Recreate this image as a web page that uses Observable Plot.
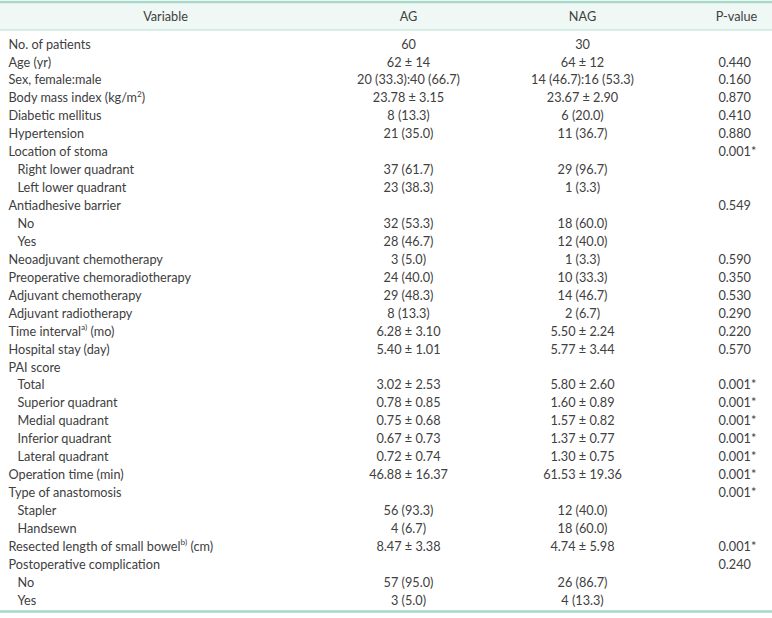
<!DOCTYPE html>
<html>
<head>
<meta charset="utf-8">
<script src="https://cdn.jsdelivr.net/npm/d3@7"></script>
<script src="https://cdn.jsdelivr.net/npm/@observablehq/plot@0.6"></script>
<style>
  html, body { margin: 0; padding: 0; background: #fff; }
  #chart svg { display: block; }
</style>
</head>
<body>
<div id="chart"></div>
<script>
const headers = ["Variable", "AG", "NAG", "P-value"];

const variables = [
  "No. of patients", "Age (yr)", "Sex, female:male", "Body mass index (kg/m^{2})",
  "Diabetic mellitus", "Hypertension", "Location of stoma", "Right lower quadrant",
  "Left lower quadrant", "Antiadhesive barrier", "No", "Yes",
  "Neoadjuvant chemotherapy", "Preoperative chemoradiotherapy", "Adjuvant chemotherapy",
  "Adjuvant radiotherapy", "Time interval^{a)} (mo)", "Hospital stay (day)", "PAI score",
  "Total", "Superior quadrant", "Medial quadrant", "Inferior quadrant", "Lateral quadrant",
  "Operation time (min)", "Type of anastomosis", "Stapler", "Handsewn",
  "Resected length of small bowel^{b)} (cm)", "Postoperative complication", "No", "Yes"
];

const level = [0,0,0,0, 0,0,0,1, 1,0,1,1, 0,0,0, 0,0,0,0, 1,1,1,1,1, 0,0,1,1, 0,0,1,1];

const ag = [
  "60", "62 ± 14", "20 (33.3):40 (66.7)", "23.78 ± 3.15",
  "8 (13.3)", "21 (35.0)", "", "37 (61.7)",
  "23 (38.3)", "", "32 (53.3)", "28 (46.7)",
  "3 (5.0)", "24 (40.0)", "29 (48.3)",
  "8 (13.3)", "6.28 ± 3.10", "5.40 ± 1.01", "",
  "3.02 ± 2.53", "0.78 ± 0.85", "0.75 ± 0.68", "0.67 ± 0.73", "0.72 ± 0.74",
  "46.88 ± 16.37", "", "56 (93.3)", "4 (6.7)",
  "8.47 ± 3.38", "", "57 (95.0)", "3 (5.0)"
];

const nag = [
  "30", "64 ± 12", "14 (46.7):16 (53.3)", "23.67 ± 2.90",
  "6 (20.0)", "11 (36.7)", "", "29 (96.7)",
  "1 (3.3)", "", "18 (60.0)", "12 (40.0)",
  "1 (3.3)", "10 (33.3)", "14 (46.7)",
  "2 (6.7)", "5.50 ± 2.24", "5.77 ± 3.44", "",
  "5.80 ± 2.60", "1.60 ± 0.89", "1.57 ± 0.82", "1.37 ± 0.77", "1.30 ± 0.75",
  "61.53 ± 19.36", "", "12 (40.0)", "18 (60.0)",
  "4.74 ± 5.98", "", "26 (86.7)", "4 (13.3)"
];

const pvalue = [
  "", "0.440", "0.160", "0.870",
  "0.410", "0.880", "0.001*", "",
  "", "0.549", "", "",
  "0.590", "0.350", "0.530",
  "0.290", "0.220", "0.570", "",
  "0.001*", "0.001*", "0.001*", "0.001*", "0.001*",
  "0.001*", "0.001*", "", "",
  "0.001*", "0.240", "", ""
];

// Layout (not data)
const W = 772, H = 618;
const colX = { label: 8, indent: 17, ag: 408, nag: 582, pHead: 736, p: 718 };
const headerRow = -1.56;
const topLine = -2.37, headBottom = -0.815, bottomLine = 31.6;

const rows = variables.map((v, i) => ({ i, v, lvl: level[i], ag: ag[i], nag: nag[i], p: pvalue[i] }));
const headCells = [
  { t: headers[0], x: 165 },
  { t: headers[1], x: colX.ag },
  { t: headers[2], x: colX.nag },
  { t: headers[3], x: colX.pHead }
];

const font = "Lato, 'Open Sans', sans-serif";
const ink = "#404040";
const mint = "#a6d9c9";
const fs = 12.7;

const plot = Plot.plot({
  width: W, height: H,
  margin: 0,
  style: { fontFamily: font, fontSize: fs + "px", color: ink, background: "#fff" },
  x: { type: "linear", domain: [0, W], range: [0, W], axis: null },
  y: { type: "linear", domain: [-2.4526, 31.995], range: [0, H], axis: null },
  marks: [
    Plot.rect([0], { x1: 0, x2: W, y1: topLine, y2: headBottom, fill: "#eff8f4" }),
    Plot.ruleY([topLine], { x1: 0, x2: W, stroke: mint, strokeWidth: 2.5 }),
    Plot.ruleY([headBottom], { x1: 0, x2: W, stroke: "#bfe4d8", strokeWidth: 1.3 }),
    Plot.ruleY([bottomLine], { x1: 0, x2: W, stroke: mint, strokeWidth: 2.5 }),
    Plot.text(headCells, { x: "x", y: () => headerRow, text: "t", textAnchor: "middle", fill: ink, fontSize: fs }),
    Plot.text(rows, { x: d => d.lvl ? colX.indent : colX.label, y: "i", text: "v", textAnchor: "start", fill: ink, fontSize: fs }),
    Plot.text(rows, { x: () => colX.ag, y: "i", text: "ag", textAnchor: "middle", fill: ink, fontSize: fs }),
    Plot.text(rows, { x: () => colX.nag, y: "i", text: "nag", textAnchor: "middle", fill: ink, fontSize: fs }),
    Plot.text(rows, { x: () => colX.p, y: "i", text: "p", textAnchor: "start", fill: ink, fontSize: fs })
  ]
});

// superscripts: replace ^{...} with raised tspans
const NS = "http://www.w3.org/2000/svg";
plot.querySelectorAll("text").forEach(t => {
  const s = t.textContent;
  if (!s.includes("^{")) return;
  const parts = s.split(/(\^\{[^}]*\})/);
  while (t.firstChild) t.removeChild(t.firstChild);
  let raised = false;
  parts.forEach(p => {
    if (!p) return;
    const ts = document.createElementNS(NS, "tspan");
    if (p.startsWith("^{")) {
      ts.textContent = p.slice(2, -1);
      ts.setAttribute("font-size", "8.3");
      ts.setAttribute("dy", "-5.5");
      raised = true;
    } else {
      if (raised) { ts.setAttribute("dy", "5.5"); raised = false; }
      ts.textContent = p;
    }
    t.appendChild(ts);
  });
});

document.getElementById("chart").appendChild(plot);
</script>
</body>
</html>
